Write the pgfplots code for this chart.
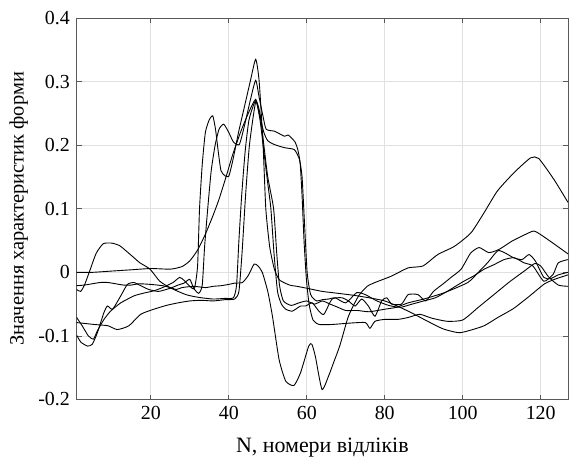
\documentclass[border=0pt]{standalone}
\usepackage{fontspec}
\setmainfont{Liberation Serif}
\usepackage{pgfplots}
\pgfplotsset{compat=1.18}
\definecolor{gridgray}{gray}{0.88}
\definecolor{axgray}{gray}{0.35}
\pgfplotsset{every tick label/.append style={font=\fontsize{20}{24}\selectfont},
  sig/.style={black, line width=0.9bp, no markers, smooth, tension=0.35}}

\begin{document}
\fontsize{20}{24}\selectfont
\begin{tikzpicture}
\useasboundingbox (-76.7bp,-57.5bp) rectangle (493.3bp,399.5bp);
\begin{axis}[at={(0,0)}, anchor=south west, scale only axis,
  width=491.3bp, height=381.5bp,
  xmin=1, xmax=127, ymin=-0.2, ymax=0.4,
  xtick={20,40,60,80,100,120}, xticklabels={20,40,60,80,100,120},
  ytick={-0.2,-0.1,0,0.1,0.2,0.3,0.4},
  yticklabels={-0.2,-0.1,0,0.1,0.2,0.3,0.4},
  tick align=inside, major tick length=5bp,
  tick style={axgray, line width=0.6bp},
  axis line style={axgray, line width=0.8bp},
  grid=major, major grid style={gridgray, line width=0.6bp},
  xlabel={N, номери відліків},
  ylabel={Значення характеристик форми},
  xlabel style={font=\fontsize{22}{26}\selectfont, at={(axis description cs:0.5,-0.127)}, anchor=center},
  ylabel style={font=\fontsize{20.5}{24}\selectfont, at={(axis description cs:-0.118,0.5)}, anchor=center}]

% E1 -> 0.33 peak -> long trail
\addplot[sig] coordinates {(1,-0.071)(2.5,-0.085)(4,-0.1)(5.3,-0.105)(6.3,-0.092)(8,-0.074)(9.7,-0.061)(12.3,-0.048)(15.7,-0.037)(18,-0.033)(20.8,-0.029)(23,-0.024)(25.7,-0.016)(27.4,-0.008)(28.6,-0.013)(30,-0.022)(31.2,-0.025)(32,0.01)(32.5,0.1)(33.2,0.17)(34,0.22)(35,0.24)(35.9,0.246)(36.6,0.225)(37.3,0.19)(38,0.16)(39,0.152)(40,0.151)(41,0.175)(42.5,0.22)(44,0.26)(45.5,0.30)(46.9,0.335)(47.8,0.30)(48.8,0.2)(49.5,0.1)(50.5,0.04)(51.7,0.005)(53,-0.012)(55.6,-0.02)(57.5,-0.022)(60,-0.025)(64,-0.03)(68,-0.033)(73,-0.037)(80,-0.045)(86,-0.061)(91,-0.077)(95,-0.089)(99,-0.095)(102,-0.091)(105.5,-0.084)(109,-0.071)(113,-0.057)(117,-0.038)(121,-0.018)(124,-0.01)(127,-0.004)};

% E2 -> 0.30 peak -> upper shoulder
\addplot[sig] coordinates {(1,-0.099)(2.1,-0.11)(3.8,-0.116)(5,-0.113)(6.3,-0.095)(8,-0.063)(8.9,-0.053)(10.2,-0.058)(12.3,-0.037)(14,-0.019)(15.7,-0.016)(17.4,-0.021)(19.5,-0.027)(22,-0.03)(25,-0.025)(27,-0.02)(28.5,-0.017)(30,-0.011)(31,-0.025)(32.3,-0.033)(33.2,-0.02)(33.8,0.04)(34.6,0.1)(35.5,0.16)(36.5,0.2)(37.5,0.225)(38.7,0.233)(40,0.22)(41.2,0.205)(42.7,0.201)(44,0.23)(45.5,0.27)(46.9,0.302)(47.8,0.275)(48.8,0.245)(49.6,0.225)(51.7,0.222)(53,0.218)(54.3,0.214)(55.2,0.216)(56,0.212)(57,0.205)(57.7,0.193)(58.3,0.172)(58.8,0.12)(59.3,0.05)(59.9,-0.01)(60.6,-0.05)(61.6,-0.075)(63.2,-0.082)(66.5,-0.082)(70.7,-0.08)(75,-0.079)(76.2,-0.088)(77.5,-0.077)(80,-0.074)(83.4,-0.074)(86,-0.071)(89,-0.066)(92,-0.072)(96,-0.077)(100,-0.075)(104,-0.055)(108,-0.035)(112,-0.015)(116,0.003)(118.5,0.014)(120,0.01)(122,-0.007)(124.5,-0.02)(127,-0.022)};

% gradual rise -> lower shoulder
\addplot[sig] coordinates {(1,0.0)(5,0.0)(10,0.002)(15,0.004)(20,0.006)(25,0.005)(28,0.009)(30,0.018)(32,0.035)(34,0.06)(36,0.09)(37.5,0.115)(39.3,0.15)(41,0.185)(43,0.22)(45,0.25)(46.9,0.272)(48,0.245)(49,0.22)(50,0.207)(51.7,0.201)(54.3,0.196)(56.8,0.193)(58.1,0.178)(58.8,0.15)(59.4,0.08)(60.1,0.0)(61,-0.035)(62.5,-0.045)(64,-0.043)(65.6,-0.042)(67.3,-0.04)(70,-0.048)(72.8,-0.032)(75,-0.035)(78,-0.045)(81,-0.052)(84,-0.055)(87,-0.05)(90,-0.045)(93,-0.04)(96,-0.03)(100,-0.015)(103,-0.005)(105.5,0.005)(108,0.012)(110.6,0.02)(113.2,0.023)(115.7,0.015)(118,0.01)(120.8,-0.014)(123.2,-0.003)(124.5,0.015)(127,0.02)};

% hump -> steep rise -> upper right
\addplot[sig] coordinates {(1,-0.027)(2,-0.03)(3,-0.02)(4.5,0.005)(6,0.03)(7.8,0.045)(10,0.046)(12,0.042)(13.8,0.033)(15.5,0.024)(17.2,0.015)(19.8,0.005)(22.3,-0.014)(24.9,-0.024)(27,-0.03)(29,-0.035)(31,-0.038)(33,-0.04)(36,-0.042)(39,-0.041)(41.2,-0.04)(42,-0.02)(42.6,0.05)(43.3,0.12)(44.2,0.19)(45.2,0.24)(46.9,0.27)(48,0.24)(49,0.19)(50,0.14)(50.8,0.1)(51.6,0.03)(52.5,-0.03)(53.5,-0.05)(54.6,-0.058)(56.3,-0.061)(58.4,-0.053)(59.7,-0.053)(61.4,-0.048)(63.1,-0.061)(64.4,-0.066)(66.5,-0.042)(69,-0.04)(70.7,-0.045)(72.4,-0.053)(74.1,-0.042)(75.8,-0.053)(77.5,-0.069)(79.2,-0.045)(80.5,-0.04)(81.8,-0.05)(84.3,-0.05)(86,-0.035)(88.5,-0.035)(90.5,-0.045)(92.5,-0.03)(95,-0.018)(97,-0.008)(99.6,0.005)(102,0.03)(104.2,0.039)(106.7,0.031)(109.3,0.036)(112.6,0.049)(115.2,0.057)(118.2,0.065)(120.3,0.058)(122.9,0.047)(127,0.029)};

% low start -> steep rise
\addplot[sig] coordinates {(1,-0.079)(5.5,-0.082)(9,-0.084)(11.4,-0.09)(14.4,-0.084)(17.4,-0.066)(20.8,-0.058)(24,-0.052)(27,-0.048)(30,-0.045)(33,-0.044)(36,-0.045)(39,-0.043)(41.5,-0.042)(42.6,-0.03)(43.4,0.03)(44.3,0.12)(45.3,0.2)(46.9,0.268)(48,0.25)(49,0.2)(50,0.15)(51.5,0.1)(52.3,0.03)(53,-0.02)(54,-0.045)(56,-0.052)(58,-0.048)(60,-0.045)(62,-0.05)(64,-0.045)(66,-0.05)(68,-0.055)(70,-0.06)(73,-0.06)(76,-0.062)(80,-0.058)(83,-0.055)(86,-0.048)(90,-0.042)(95.3,-0.032)(101.3,-0.016)(104,0.0)(106.5,0.016)(109,0.034)(111,0.03)(113,0.023)(115.2,0.02)(117,0.028)(118.6,0.018)(120.8,-0.008)(122.5,-0.01)(124.5,-0.004)(127,0.0)};

% dip curve
\addplot[sig] coordinates {(1,-0.021)(3,-0.02)(5,-0.018)(7,-0.016)(9,-0.016)(11,-0.018)(13,-0.02)(15,-0.02)(17,-0.018)(20,-0.019)(23,-0.021)(25,-0.024)(26.6,-0.027)(28,-0.024)(31,-0.022)(34,-0.024)(36,-0.022)(38,-0.021)(40,-0.019)(41.5,-0.017)(43.5,-0.016)(45,-0.005)(46.5,0.013)(47.5,0.01)(48.6,0.0)(50,-0.03)(51.2,-0.069)(52.9,-0.137)(54.6,-0.171)(56.7,-0.178)(58.4,-0.158)(60.5,-0.116)(61.3,-0.113)(62.2,-0.132)(63.9,-0.184)(65.6,-0.163)(67,-0.14)(68.5,-0.115)(70.7,-0.069)(73.3,-0.037)(75.5,-0.022)(77.5,-0.016)(81.7,-0.006)(86,0.007)(89.8,0.01)(93.6,0.028)(97.9,0.041)(102.1,0.062)(105.5,0.094)(108.9,0.128)(113.2,0.157)(117.4,0.18)(119.5,0.179)(123.4,0.146)(127,0.11)};
\end{axis}
\end{tikzpicture}
\end{document}
